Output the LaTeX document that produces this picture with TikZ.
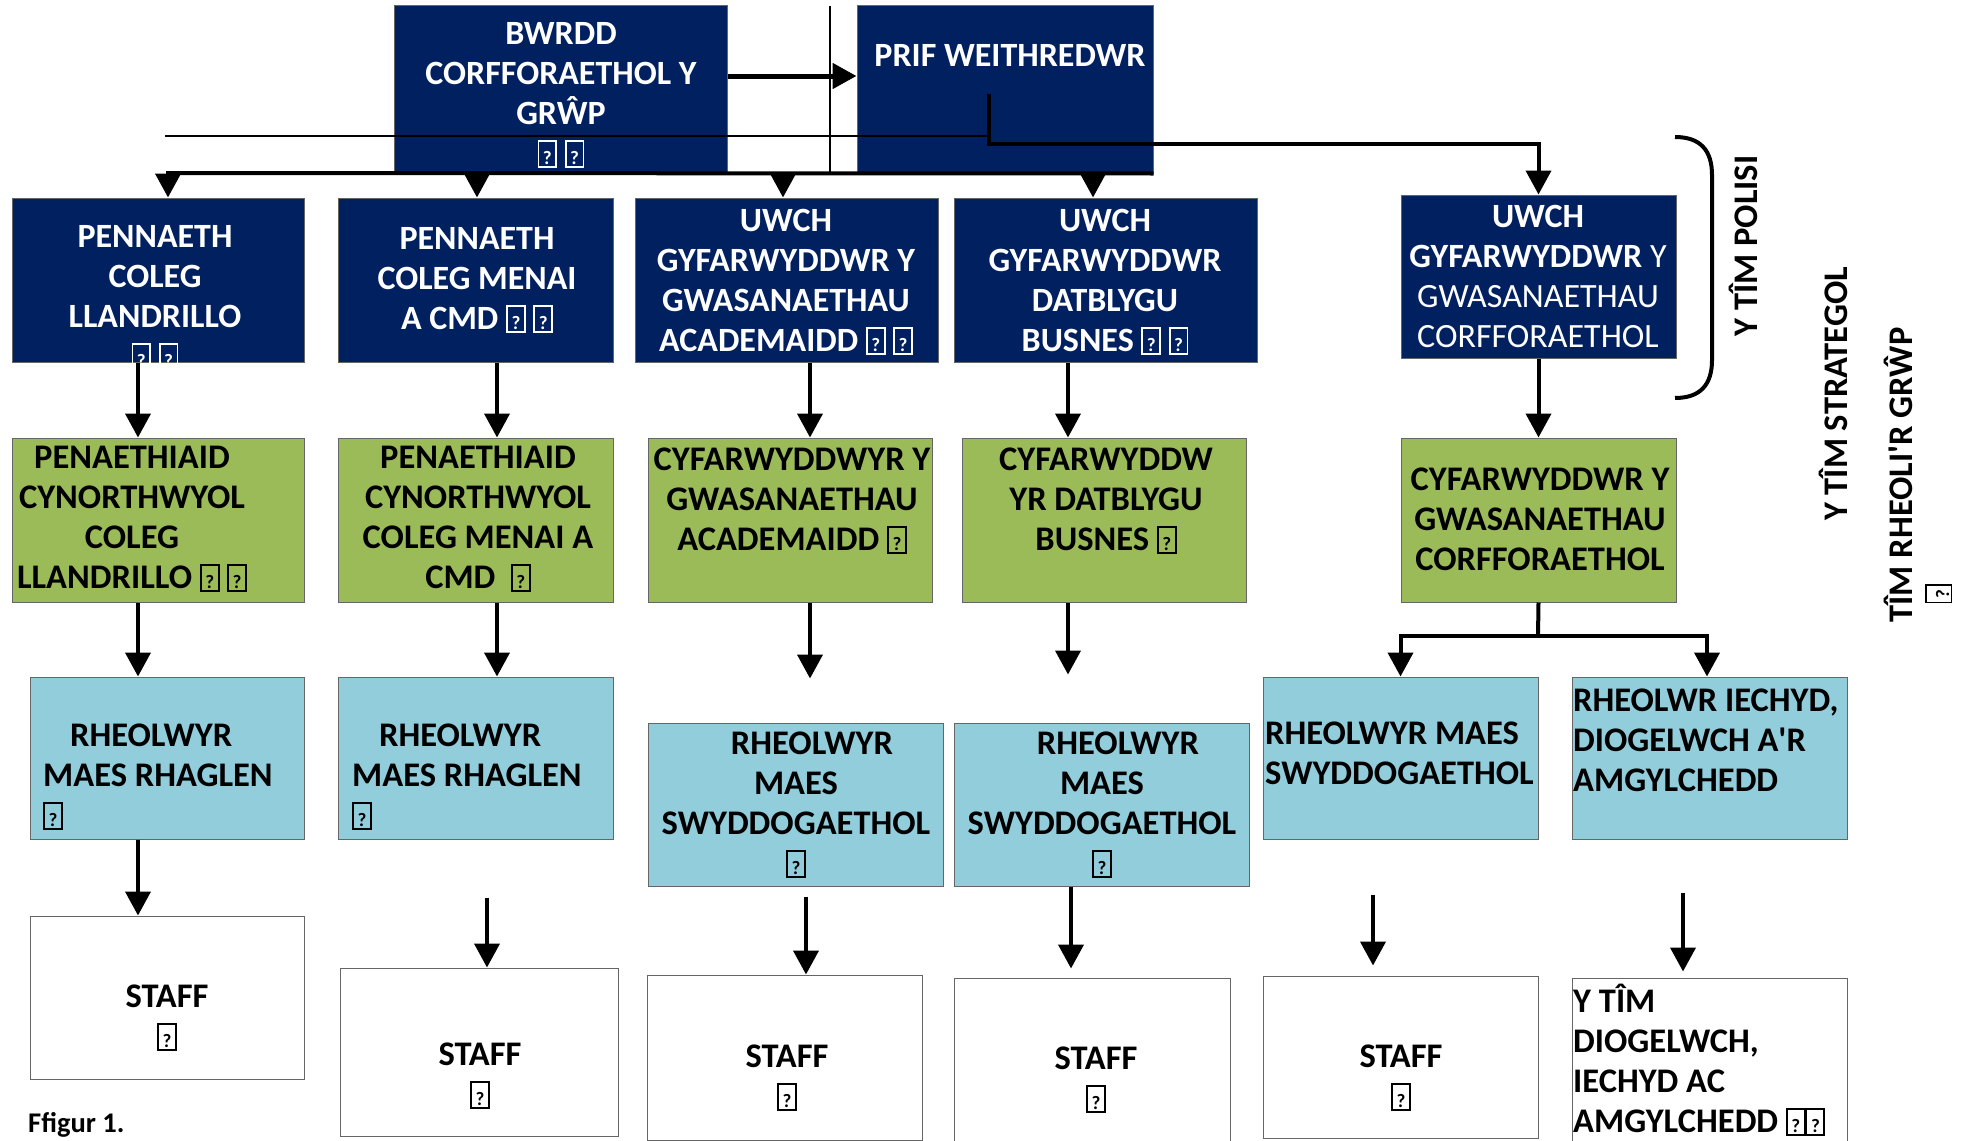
\documentclass[tikz,border=0pt]{standalone}
\usepackage{fontspec}
\setmainfont{Carlito}
\usetikzlibrary{arrows.meta}
\definecolor{navy}{HTML}{002060}
\definecolor{leaf}{HTML}{9BBB59}
\definecolor{sky}{HTML}{92CDDC}
\newcommand{\qq}{{\setlength{\fboxsep}{1.5pt}\setlength{\fboxrule}{1.8pt}\fbox{\makebox[13pt]{\rule{0pt}{21pt}\fontsize{19}{19}\selectfont ?}}}}

\begin{document}
\begin{tikzpicture}
		[x=1pt, y=-1pt,
		navybox/.style={rectangle,draw=black!60,fill=navy,line width=1pt,inner sep=0pt},
		greenbox/.style={rectangle,draw=black!60,fill=leaf,line width=1pt,inner sep=0pt},
		bluebox/.style={rectangle,draw=black!60,fill=sky,line width=1pt,inner sep=0pt},
		staffbox/.style={rectangle,draw=black!60,fill=white,line width=1pt,inner sep=0pt},
		wtext/.style={text=white,align=center,inner sep=0pt,font=\fontsize{34}{40}\selectfont\bfseries},
		btext/.style={text=black,align=center,inner sep=0pt,font=\fontsize{34.5}{40}\selectfont\bfseries},
		sidetext/.style={text=black,inner sep=0pt,rotate=90,font=\fontsize{34.5}{37}\selectfont\bfseries},
		link/.style={line width=4pt},
		arr/.style={line width=4pt,-{Triangle[width=25pt,length=24pt]}}]
		\useasboundingbox (0,0) rectangle (1969,1140);

		% top row
		\node [navybox, minimum width=333pt, minimum height=167pt] (bwrdd) at (560.5,89.5) {};
		\node [navybox, minimum width=296pt, minimum height=167pt] (prif) at (1005,89.5) {};
		\node [wtext] (bwrdd-t) at (561,95) {BWRDD\\CORFFORAETHOL Y\\GRŴP\\\qq\ \qq};
		\node [wtext] (prif-t) at (1010,55) {PRIF WEITHREDWR};

		% second row
		\node [navybox, minimum width=292pt, minimum height=164pt] (pa) at (158,280) {};
		\node [navybox, minimum width=275pt, minimum height=164pt] (pb) at (475.5,280) {};
		\node [navybox, minimum width=303pt, minimum height=164pt] (pc) at (786.5,280) {};
		\node [navybox, minimum width=303pt, minimum height=164pt] (pd) at (1105.5,280) {};
		\node [navybox, minimum width=275pt, minimum height=163pt] (pe) at (1538.5,276.5) {};
		\node [wtext] (pa-t) at (155,298) {PENNAETH\\COLEG\\LLANDRILLO\\\qq\ \qq};
		\node [wtext] (pb-t) at (477,280) {PENNAETH\\COLEG MENAI\\A CMD \qq\ \qq};
		\node [wtext] (pc-t) at (786,282) {UWCH\\GYFARWYDDWR Y\\GWASANAETHAU\\ACADEMAIDD \qq\ \qq};
		\node [wtext] (pd-t) at (1105,282) {UWCH\\GYFARWYDDWR\\DATBLYGU\\BUSNES \qq\ \qq};
		\node [wtext, font=\fontsize{34}{40}\selectfont] (pe-t) at (1538,276) {\textbf{UWCH}\\\textbf{GYFARWYDDWR} Y\\GWASANAETHAU\\CORFFORAETHOL};

		% third row
		\node [greenbox, minimum width=292pt, minimum height=164pt] (ga) at (158,520) {};
		\node [greenbox, minimum width=275pt, minimum height=164pt] (gb) at (475.5,520) {};
		\node [greenbox, minimum width=284pt, minimum height=164pt] (gc) at (790,520) {};
		\node [greenbox, minimum width=284pt, minimum height=164pt] (gd) at (1104,520) {};
		\node [greenbox, minimum width=275pt, minimum height=164pt] (ge) at (1538.5,520) {};
		\node [btext] (ga-t) at (132,519) {PENAETHIAID\\CYNORTHWYOL\\COLEG\\LLANDRILLO \qq\ \qq};
		\node [btext] (gb-t) at (478,519) {PENAETHIAID\\CYNORTHWYOL\\COLEG MENAI A\\CMD\ \ \qq};
		\node [btext] (gc-t) at (792,501) {CYFARWYDDWYR Y\\GWASANAETHAU\\ACADEMAIDD \qq};
		\node [btext] (gd-t) at (1106,501) {CYFARWYDDW\\YR DATBLYGU\\BUSNES \qq};
		\node [btext] (ge-t) at (1540,519) {CYFARWYDDWR Y\\GWASANAETHAU\\CORFFORAETHOL};

		% fourth row
		\node [bluebox, minimum width=274pt, minimum height=162pt] (ra) at (167,758) {};
		\node [bluebox, minimum width=275pt, minimum height=162pt] (rb) at (475.5,758) {};
		\node [bluebox, minimum width=295pt, minimum height=163pt] (rc) at (795.5,804.5) {};
		\node [bluebox, minimum width=295pt, minimum height=163pt] (rd) at (1101.5,804.5) {};
		\node [bluebox, minimum width=275pt, minimum height=162pt] (re) at (1400.5,758) {};
		\node [bluebox, minimum width=275pt, minimum height=162pt] (rf) at (1709.5,758) {};
		\node [btext, align=left, anchor=west] (ra-t) at (43,777) {\hspace*{27pt}RHEOLWYR\\MAES RHAGLEN\\\qq};
		\node [btext, align=left, anchor=west] (rb-t) at (352,777) {\hspace*{27pt}RHEOLWYR\\MAES RHAGLEN\\\qq};
		\node [btext] (rc-t) at (796,805) {\hspace*{32pt}RHEOLWYR\\MAES\\SWYDDOGAETHOL\\\qq};
		\node [btext] (rd-t) at (1102,805) {\hspace*{32pt}RHEOLWYR\\MAES\\SWYDDOGAETHOL\\\qq};
		\node [btext, align=left, anchor=west] (re-t) at (1265,753) {RHEOLWYR MAES\\SWYDDOGAETHOL};
		\node [btext, align=left, anchor=west] (rf-t) at (1573,740) {RHEOLWR IECHYD,\\DIOGELWCH A\textquotesingle R\\AMGYLCHEDD};

		% staff row
		\node [staffbox, minimum width=274pt, minimum height=163pt] (sa) at (167,997.5) {};
		\node [staffbox, minimum width=278pt, minimum height=168pt] (sb) at (479,1052) {};
		\node [staffbox, minimum width=275pt, minimum height=165pt] (sc) at (785,1057.5) {};
		\node [staffbox, minimum width=276pt, minimum height=164pt] (sd) at (1092,1060) {};
		\node [staffbox, minimum width=275pt, minimum height=162pt] (se) at (1400.5,1057) {};
		\node [staffbox, minimum width=275pt, minimum height=167pt] (sf) at (1709.5,1061.5) {};
		\node [btext] (sa-t) at (167,1018) {STAFF\\\qq};
		\node [btext] (sb-t) at (480,1076) {STAFF\\\qq};
		\node [btext] (sc-t) at (787,1078) {STAFF\\\qq};
		\node [btext] (sd-t) at (1096,1080) {STAFF\\\qq};
		\node [btext] (se-t) at (1401,1078) {STAFF\\\qq};
		\node [btext, align=left, anchor=west] (sf-t) at (1573,1060) {Y TÎM\\DIOGELWCH,\\IECHYD AC\\AMGYLCHEDD \qq\qq};

		\node [btext, anchor=west, font=\fontsize{28.5}{32}\selectfont\bfseries] (fig) at (28,1125) {Ffigur 1.};

		% team labels
		\node [sidetext] (polisi) at (1743,246) {Y TÎM POLISI};
		\node [sidetext] (strategol) at (1833,394) {Y TÎM STRATEGOL};
		\node [sidetext, align=left] (rheoli) at (1918,475) {TÎM RHEOLI\textquotesingle R GRŴP\\\hspace*{19pt}\qq};
		\draw [line width=4pt] (1675,137) .. controls (1700,137) and (1712,150) .. (1712,175)
			-- (1712,360) .. controls (1712,385) and (1700,398) .. (1675,398);

		% columns
		\coordinate (bar) at (166,173);
		\coordinate (gap) at (830,6);
		\coordinate (ceo) at (989,94);
		\coordinate (rule) at (165,136);
		\coordinate (split) at (1538,636);
		\coordinate (ka) at (138,0);
		\coordinate (kb) at (497,0);
		\coordinate (kc) at (810,0);
		\coordinate (kd) at (1068,0);
		\coordinate (kb5) at (487,0);
		\coordinate (kc5) at (806,0);
		\coordinate (kd5) at (1071,0);
		\coordinate (ke5) at (1373,0);
		\coordinate (kf5) at (1683,0);

		% top links
		\draw [line width=1.2pt] (gap) -- (gap |- bar);
		\draw [line width=1.2pt] (rule) -- (rule -| ceo);
		\draw [arr, line width=5pt] ([yshift=13.5pt]bwrdd.east) -- ([yshift=13.5pt]prif.west);
		\draw [link] (bar) -- (prif.south east);
		\draw [arr] ([xshift=10pt]pa.north |- bar) -- ([xshift=10pt]pa.north);
		\draw [arr] ([xshift=1.5pt]pb.north |- bar) -- ([xshift=1.5pt]pb.north);
		\draw [arr] ([xshift=-3.5pt]pc.north |- bar) -- ([xshift=-3.5pt]pc.north);
		\draw [arr] ([xshift=-12.5pt]pd.north |- bar) -- ([xshift=-12.5pt]pd.north);
		\draw [arr] (ceo) -- ++(0,50) -| (pe.north);

		% second to third row
		\draw [arr] (ka |- pa.south) -- (ka |- ga.north);
		\draw [arr] (kb |- pb.south) -- (kb |- gb.north);
		\draw [arr] (kc |- pc.south) -- (kc |- gc.north);
		\draw [arr] (kd |- pd.south) -- (kd |- gd.north);
		\draw [arr] (pe.south) -- (ge.north);

		% third to fourth row
		\draw [arr] (ka |- ga.south) -- (ka |- ra.north);
		\draw [arr] (kb |- gb.south) -- (kb |- rb.north);
		\draw [arr, shorten >=44pt] (kc |- gc.south) -- (kc |- rc.north);
		\draw [arr, shorten >=48pt] (kd |- gd.south) -- (kd |- rd.north);
		\draw [link] (ge.south) -- (split);
		\draw [arr] (split) -| (re.north);
		\draw [arr] (split) -| ([xshift=-2.5pt]rf.north);

		% fourth row to staff
		\draw [arr] (ka |- ra.south) -- (ka |- sa.north);
		\draw [arr, shorten <=58pt] (kb5 |- rb.south) -- (kb5 |- sb.north);
		\draw [arr, shorten <=10pt] (kc5 |- rc.south) -- (kc5 |- sc.north);
		\draw [arr, shorten >=9pt] (kd5 |- rd.south) -- (kd5 |- sd.north);
		\draw [arr, shorten <=55pt, shorten >=10pt] (ke5 |- re.south) -- (ke5 |- se.north);
		\draw [arr, shorten <=53pt, shorten >=6pt] (kf5 |- rf.south) -- (kf5 |- sf.north);
	\end{tikzpicture}
\end{document}
